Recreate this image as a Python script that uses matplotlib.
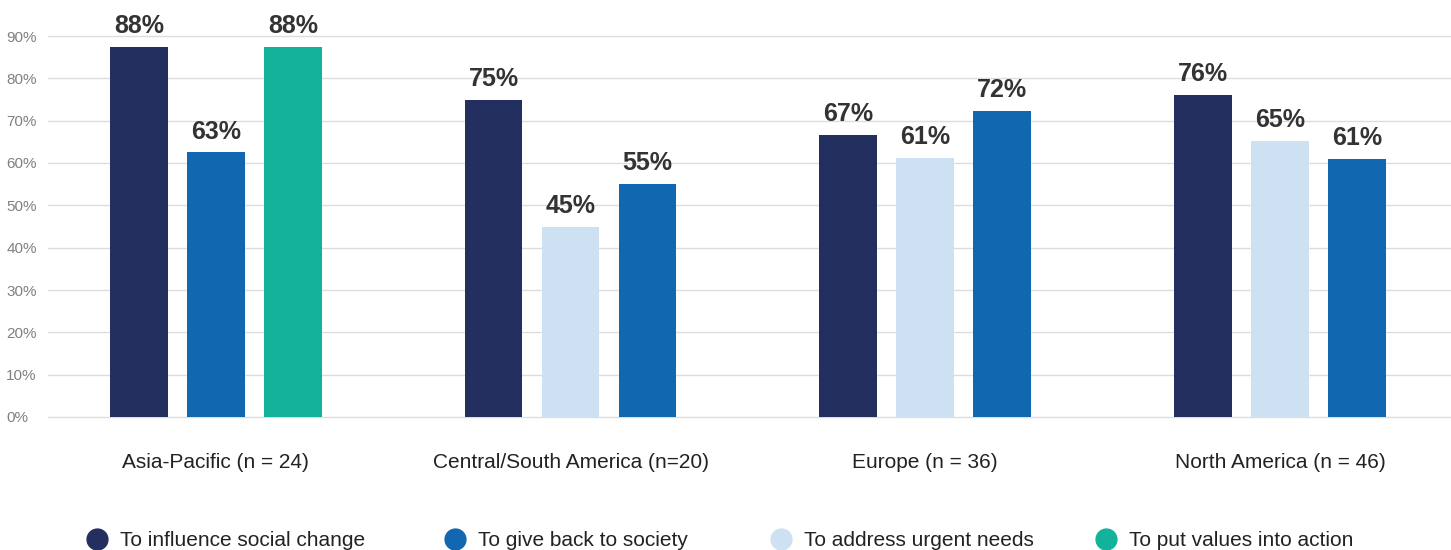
import matplotlib
matplotlib.use("Agg")
import matplotlib.pyplot as plt
import numpy as np
from matplotlib.lines import Line2D

# Data
regions = [
    "Asia-Pacific (n = 24)",
    "Central/South America (n=20)",
    "Europe (n = 36)",
    "North America (n = 46)",
]
reasons = [
    "To influence social change",
    "To give back to society",
    "To address urgent needs",
    "To put values into action",
]
colors = ["#232F5F", "#1267B1", "#CDE1F2", "#12B39A"]

# which reason each bar belongs to, left to right within a region
bar_reasons = [
    [0, 1, 3],
    [0, 2, 1],
    [0, 2, 1],
    [0, 2, 1],
]
bar_values = [
    [87.5, 62.5, 87.5],
    [75.0, 45.0, 55.0],
    [66.7, 61.1, 72.2],
    [76.1, 65.2, 60.9],
]

W, H = 1451, 550
fig = plt.figure(figsize=(W / 100, H / 100), dpi=100)
ax = fig.add_axes([48 / W, 1 - 417 / H, 1 - 48 / W, (417 - 36) / H])

font = ["Liberation Sans", "DejaVu Sans"]

width = 0.163
step = 0.217
for g, (idx, vals) in enumerate(zip(bar_reasons, bar_values)):
    for k, (r, v) in enumerate(zip(idx, vals)):
        x = g + (k - 1) * step
        ax.bar(x, v, width=width, color=colors[r], zorder=3)
        ax.annotate(f"{int(np.floor(v + 0.5))}%", (x, v), xytext=(0, 10),
                    textcoords="offset points", ha="center", va="baseline",
                    fontsize=18, fontweight="bold", color="#333333",
                    family=font, annotation_clip=False)

ax.set_xlim(-0.473, 3.482)
ax.set_ylim(0, 90)
ax.set_yticks(np.arange(0, 91, 10))
ax.set_yticklabels([f"{t}%" for t in range(0, 91, 10)], family=font,
                   fontsize=11, color="#808080", ha="left")
ax.tick_params(axis="y", length=0, pad=30)
ax.set_xticks(range(len(regions)))
ax.set_xticklabels(regions, family=font, fontsize=15, color="#222222")
ax.tick_params(axis="x", length=0, pad=26)
ax.grid(axis="y", color="#DDDDDD", linewidth=1, zorder=0)
for gl in ax.get_ygridlines():
    gl.set_clip_on(False)
for s in ax.spines.values():
    s.set_visible(False)

# legend, laid out by hand along the bottom edge
marker_x = [97, 455, 781, 1106]
for mx, label, c in zip(marker_x, reasons, colors):
    fig.add_artist(Line2D([mx / W], [1 - 539 / H], transform=fig.transFigure,
                          marker="o", markersize=15, linestyle="",
                          markerfacecolor=c, markeredgecolor=c))
    fig.text((mx + 23) / W, 1 - 540 / H, label, family=font, fontsize=15,
             color="#222222", ha="left", va="center")

fig.savefig("out.png", dpi=100)
